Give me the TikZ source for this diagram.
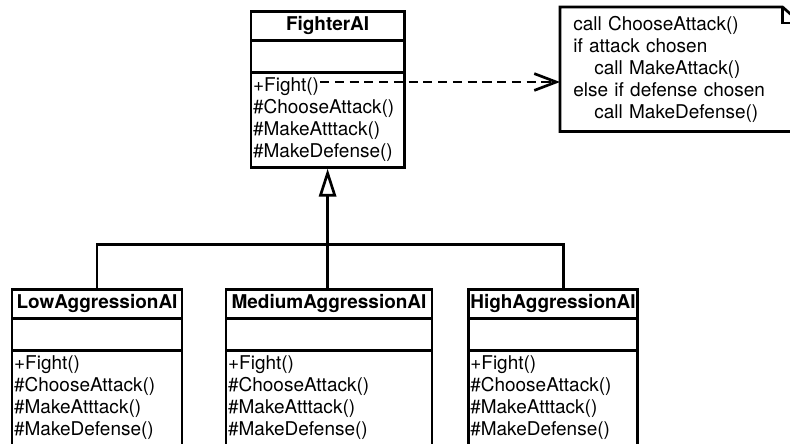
\documentclass[tikz,border=0pt]{standalone}
\usepackage{fontspec}
\setmainfont{TeX Gyre Heros}
\usetikzlibrary{shapes.multipart,arrows.meta,calc}
\begin{document}
\begin{tikzpicture}[font=\fontsize{13.5}{15.65}\selectfont,
  umlline/.style={line width=1.9pt},
  umlclass/.style={draw,umlline,anchor=north,rectangle split,rectangle split parts=3,
    rectangle split part align={center,left,left},inner xsep=1.5pt,inner ysep=1.5pt,
    rectangle split empty part height=18pt}]
\useasboundingbox (0,0) rectangle (19.75,-11.075);
\clip (0,0) rectangle (19.75,-11.075);
\node[umlclass,minimum width=3.83cm] (fighter) at (8.19,-0.25) {\strut\textbf{FighterAI}\nodepart{second}\nodepart{third}\begin{tabular}{@{}l@{}}+Fight()\\\#ChooseAttack()\\\#MakeAtttack()\\\#MakeDefense()\end{tabular}};
\node[umlclass,minimum width=4.25cm] (low) at (2.425,-7.2) {\strut\textbf{LowAggressionAI}\nodepart{second}\nodepart{third}\begin{tabular}{@{}l@{}}+Fight()\\\#ChooseAttack()\\\#MakeAtttack()\\\#MakeDefense()\\[8pt]\end{tabular}};
\node[umlclass,minimum width=5.15cm] (med) at (8.225,-7.2) {\strut\textbf{MediumAggressionAI}\nodepart{second}\nodepart{third}\begin{tabular}{@{}l@{}}+Fight()\\\#ChooseAttack()\\\#MakeAtttack()\\\#MakeDefense()\\[8pt]\end{tabular}};
\node[umlclass,minimum width=4.1cm] (high) at (13.825,-7.2) {\strut\textbf{HighAggressionAI}\nodepart{second}\nodepart{third}\begin{tabular}{@{}l@{}}+Fight()\\\#ChooseAttack()\\\#MakeAtttack()\\\#MakeDefense()\\[8pt]\end{tabular}};
\node[anchor=north west,align=left,text width=5.35cm,minimum height=3.1cm,inner xsep=0.325cm,inner ysep=0pt] (note) at (14.0,-0.175) {call ChooseAttack()\\if attack chosen\\\hspace*{15pt}call MakeAttack()\\else if defense chosen\\\hspace*{15pt}call MakeDefense()};
\draw[umlline] (note.north west) -- ($(note.north east)+(-0.45,0)$) -- ($(note.north east)+(0,-0.4)$) -- (note.south east) -- (note.south west) -- cycle;
\draw[umlline] ($(note.north east)+(-0.45,0)$) -- ($(note.north east)+(-0.45,-0.4)$) -- ($(note.north east)+(0,-0.4)$);
\coordinate (fightend) at (8.0,-2.05);
\draw[umlline,dash pattern=on 6.5pt off 4pt,-{Straight Barb[length=0.55cm,width=0.42cm]}] (fightend) -- (fightend -| note.west);
\coordinate (bus) at ($(fighter.south)+(0,-1.9)$);
\coordinate (hightop) at ($(high.north)+(0.27,0)$);
\draw[umlline,{Triangle[open,length=0.7cm,width=0.43cm]}-] (fighter.south) -- (bus);
\draw[umlline] (low.north) |- (bus) -| (hightop);
\draw[umlline] (bus) -- (bus |- med.north);
\end{tikzpicture}
\end{document}
